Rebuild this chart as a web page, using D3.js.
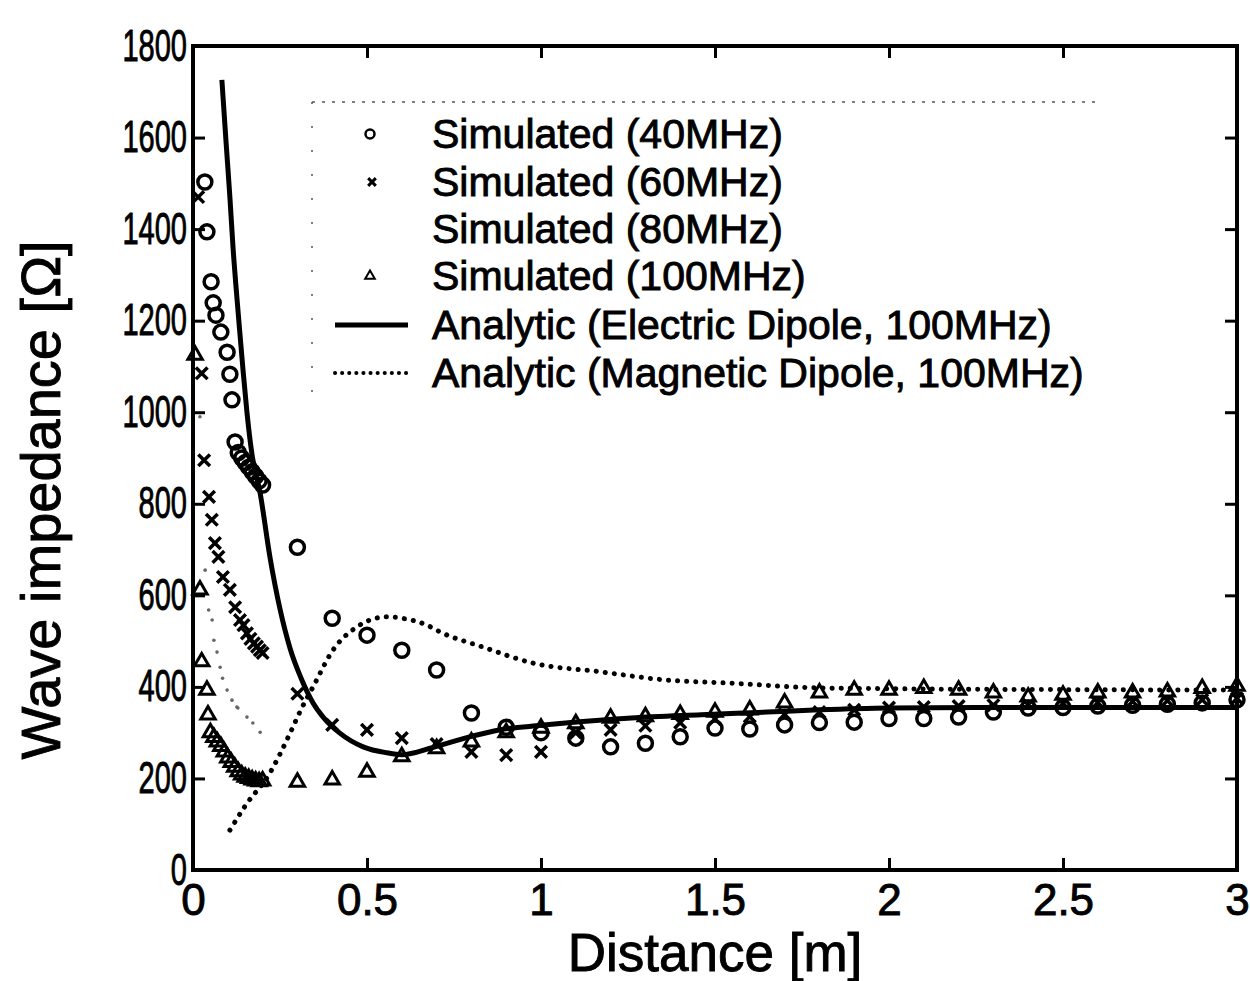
<!DOCTYPE html>
<html>
<head>
<meta charset="utf-8">
<script src="https://cdn.jsdelivr.net/npm/d3@7"></script>
<style>
  body { margin: 0; background: #fff; }
  svg { display: block; }
  text { font-family: "Liberation Sans", Arial, sans-serif; fill: #000; stroke: #000; stroke-width: 0.9px; }
</style>
</head>
<body>
<div id="chart"></div>
<script>
// ---- data ----
var xTicks = [0, 0.5, 1, 1.5, 2, 2.5, 3];
var yTicks = [0, 200, 400, 600, 800, 1000, 1200, 1400, 1600, 1800];
var legendLabels = [
  "Simulated (40MHz)",
  "Simulated (60MHz)",
  "Simulated (80MHz)",
  "Simulated (100MHz)",
  "Analytic (Electric Dipole, 100MHz)",
  "Analytic (Magnetic Dipole, 100MHz)"
];

var sim40X = [0.034, 0.040, 0.052, 0.058, 0.066, 0.080, 0.098, 0.106, 0.112, 0.121,
  0.13, 0.14, 0.15, 0.16, 0.17, 0.18, 0.19, 0.2,
  0.3, 0.4, 0.5, 0.6, 0.7, 0.8, 0.9, 1.0, 1.1, 1.2, 1.3, 1.4, 1.5, 1.6, 1.7, 1.8,
  1.9, 2.0, 2.1, 2.2, 2.3, 2.4, 2.5, 2.6, 2.7, 2.8, 2.9, 3.0];
var sim40Y = [1503, 1394, 1285, 1239, 1212, 1175, 1131, 1083, 1027, 935,
  912, 900, 890, 880, 870, 860, 850, 841,
  705, 550, 513, 480, 437, 343, 312, 300, 288, 269, 277, 291, 310, 308, 317, 322,
  323, 331, 331, 334, 345, 354, 355, 358, 360, 362, 365, 372];

var sim60X = [0.015, 0.025, 0.032, 0.046, 0.054, 0.063, 0.073, 0.086, 0.106, 0.121,
  0.135, 0.145, 0.155, 0.165, 0.175, 0.184, 0.192, 0.2,
  0.3, 0.4, 0.5, 0.6, 0.7, 0.8, 0.9, 1.0, 1.1, 1.2, 1.3, 1.4, 1.5, 1.6, 1.7, 1.8,
  1.9, 2.0, 2.1, 2.2, 2.3, 2.4, 2.5, 2.6, 2.7, 2.8, 2.9, 3.0];
var sim60Y = [1470, 1085, 895, 815, 765, 714, 684, 640, 612, 574,
  546, 535, 517, 505, 495, 488, 480, 474,
  385, 317, 306, 288, 275, 258, 251, 258, 300, 306, 315, 322, 330, 335, 340, 345,
  350, 355, 356, 358, 360, 362, 364, 366, 368, 370, 372, 375];

var sim80X = [0.02, 0.035, 0.045, 0.055, 0.06, 0.069, 0.078, 0.085, 0.098, 0.112,
  0.126, 0.129, 0.155, 0.172, 0.193];
var sim80Y = [990, 655, 568, 546, 502, 476, 443, 419, 393, 371,
  356, 354, 334, 321, 301];

var sim100X = [0.006, 0.02, 0.025, 0.04, 0.043, 0.05, 0.06, 0.07, 0.08, 0.09, 0.1,
  0.11, 0.12, 0.13, 0.14, 0.15, 0.16, 0.17, 0.18, 0.19, 0.2,
  0.3, 0.4, 0.5, 0.6, 0.7, 0.8, 0.9, 1.0, 1.1, 1.2, 1.3, 1.4, 1.5, 1.6, 1.7, 1.8,
  1.9, 2.0, 2.1, 2.2, 2.3, 2.4, 2.5, 2.6, 2.7, 2.8, 2.9, 3.0];
var sim100Y = [1125, 612, 455, 393, 339, 300, 290, 280, 270, 258, 245,
  235, 225, 215, 208, 203, 200, 197, 195, 193, 195,
  192, 197, 214, 248, 265, 280, 300, 310, 320, 332, 335, 340, 345, 350, 365, 387,
  393, 393, 397, 393, 387, 378, 382, 387, 387, 389, 397, 402];

var electricX = [0.083, 0.095, 0.106, 0.115, 0.126, 0.135, 0.144, 0.155, 0.17, 0.193,
  0.221, 0.25, 0.279, 0.31, 0.345, 0.374, 0.422, 0.489, 0.557, 0.6, 0.69, 0.8, 0.88,
  1.0, 1.07, 1.26, 1.46, 1.65, 1.8, 2.0, 2.25, 2.5, 2.75, 3.0];
var electricY = [1726, 1590, 1470, 1360, 1252, 1170, 1090, 1000, 905, 823,
  684, 570, 484, 420, 365, 334, 299, 269, 256, 252, 268, 292, 306,
  316, 321, 332, 339, 345, 350, 354, 355, 355, 355, 355];

var magneticX = [0.106, 0.15, 0.221, 0.279, 0.31, 0.345, 0.402, 0.471, 0.557, 0.6,
  0.672, 0.71, 0.833, 0.977, 1.17, 1.36, 1.55, 1.79, 2.0, 2.5, 3.0];
var magneticY = [87, 140, 212, 299, 350, 400, 480, 531, 553, 550,
  535, 520, 487, 452, 433, 415, 408, 398, 396, 394, 393];

// ---- layout ----
var width = 1250, height = 981;
var pLeft = 193, pRight = 1237, pTop = 46, pBottom = 870;

var svg = d3.select("#chart").append("svg")
  .attr("width", width)
  .attr("height", height);

svg.append("rect").attr("width", width).attr("height", height).attr("fill", "#fff");

var x = d3.scaleLinear().domain([0, 3]).range([pLeft, pRight]);
var y = d3.scaleLinear().domain([0, 1800]).range([pBottom, pTop]);

function zip(xs, ys) {
  return xs.map(function(d, i) { return [d, ys[i]]; });
}

// ---- axes (ticks pointing in, box on) ----
function styleAxis(g) {
  g.select(".domain").remove();
  g.selectAll(".tick line").attr("stroke", "#000").attr("stroke-width", 3);
  g.selectAll(".tick text").attr("fill", "#000").style("font-size", "44px")
    .style("font-family", '"Liberation Sans", Arial, sans-serif');
}

var fmtX = function(d) { return d === 0 ? "0" : String(d); };

svg.append("g")
  .attr("transform", "translate(0," + pBottom + ")")
  .call(d3.axisBottom(x).tickValues(xTicks).tickFormat(fmtX).tickSizeInner(-12).tickSizeOuter(0).tickPadding(14))
  .call(styleAxis);

svg.append("g")
  .attr("transform", "translate(0," + pTop + ")")
  .call(d3.axisTop(x).tickValues(xTicks).tickFormat("").tickSizeInner(-12).tickSizeOuter(0))
  .call(styleAxis);

var yAxisG = svg.append("g")
  .attr("transform", "translate(" + pLeft + ",0)")
  .call(d3.axisLeft(y).tickValues(yTicks).tickFormat(d3.format("d")).tickSizeInner(-12).tickSizeOuter(0).tickPadding(6))
  .call(styleAxis);

// the y tick numbers are drawn narrow in the original
yAxisG.selectAll(".tick text").each(function() {
  var w = this.getComputedTextLength();
  d3.select(this).attr("textLength", w * 0.66).attr("lengthAdjust", "spacingAndGlyphs");
});

svg.append("g")
  .attr("transform", "translate(" + pRight + ",0)")
  .call(d3.axisRight(y).tickValues(yTicks).tickFormat("").tickSizeInner(-12).tickSizeOuter(0))
  .call(styleAxis);

svg.append("rect")
  .attr("x", pLeft).attr("y", pTop)
  .attr("width", pRight - pLeft).attr("height", pBottom - pTop)
  .attr("fill", "none").attr("stroke", "#000").attr("stroke-width", 4);

// axis titles
svg.append("text")
  .attr("x", (pLeft + pRight) / 2).attr("y", 971)
  .attr("text-anchor", "middle")
  .style("font-size", "53px")
  .text("Distance [m]");

svg.append("text")
  .attr("transform", "translate(60," + 500 + ") rotate(-90)")
  .attr("text-anchor", "middle")
  .style("font-size", "56px")
  .text("Wave impedance [\u03A9]");

// ---- analytic curves ----
var line = d3.line()
  .x(function(d) { return x(d[0]); })
  .y(function(d) { return y(d[1]); })
  .curve(d3.curveMonotoneX);

svg.append("path")
  .datum(zip(electricX, electricY))
  .attr("d", line)
  .attr("fill", "none").attr("stroke", "#000").attr("stroke-width", 5);

svg.append("path")
  .datum(zip(magneticX, magneticY))
  .attr("d", line)
  .attr("fill", "none").attr("stroke", "#000").attr("stroke-width", 5)
  .attr("stroke-linecap", "round").attr("stroke-dasharray", "0.1 9");

// ---- simulated markers ----
var tri = d3.symbol().type(d3.symbolTriangle).size(90);
var cross = d3.symbol().type(d3.symbolTimes).size(90);

svg.append("g").selectAll("circle")
  .data(zip(sim40X, sim40Y)).enter().append("circle")
  .attr("cx", function(d) { return x(d[0]); })
  .attr("cy", function(d) { return y(d[1]); })
  .attr("r", 7)
  .attr("fill", "none").attr("stroke", "#000").attr("stroke-width", 3.5);

svg.append("g").selectAll("path")
  .data(zip(sim60X, sim60Y)).enter().append("path")
  .attr("d", cross)
  .attr("transform", function(d) { return "translate(" + x(d[0]) + "," + y(d[1]) + ")"; })
  .attr("fill", "none").attr("stroke", "#000").attr("stroke-width", 3.5);

svg.append("g").selectAll("circle")
  .data(zip(sim80X, sim80Y)).enter().append("circle")
  .attr("cx", function(d) { return x(d[0]); })
  .attr("cy", function(d) { return y(d[1]); })
  .attr("r", 1.8)
  .attr("fill", "#666");

svg.append("g").selectAll("path")
  .data(zip(sim100X, sim100Y)).enter().append("path")
  .attr("d", tri)
  .attr("transform", function(d) { return "translate(" + x(d[0]) + "," + y(d[1]) + ")"; })
  .attr("fill", "none").attr("stroke", "#000").attr("stroke-width", 3);

// ---- legend ----
var lg = svg.append("g");
lg.append("line").attr("x1", 312).attr("x2", 1100).attr("y1", 102).attr("y2", 102)
  .attr("stroke", "#555").attr("stroke-width", 1.5).attr("stroke-dasharray", "3 7");
lg.append("line").attr("x1", 312).attr("x2", 312).attr("y1", 102).attr("y2", 395)
  .attr("stroke", "#555").attr("stroke-width", 1.5).attr("stroke-dasharray", "2 22");

var rowY = [134, 182, 229, 276, 325, 373];
lg.selectAll("text.lab")
  .data(legendLabels).enter().append("text")
  .attr("class", "lab")
  .attr("x", 432)
  .attr("y", function(d, i) { return rowY[i] + 14; })
  .style("font-size", "41px")
  .text(function(d) { return d; });

lg.append("circle").attr("cx", 370).attr("cy", rowY[0]).attr("r", 4.5)
  .attr("fill", "none").attr("stroke", "#000").attr("stroke-width", 2.5);
lg.append("path").attr("d", d3.symbol().type(d3.symbolTimes).size(40))
  .attr("transform", "translate(372," + rowY[1] + ")")
  .attr("fill", "none").attr("stroke", "#000").attr("stroke-width", 3);
lg.append("path").attr("d", d3.symbol().type(d3.symbolTriangle).size(40))
  .attr("transform", "translate(370," + rowY[3] + ")")
  .attr("fill", "none").attr("stroke", "#000").attr("stroke-width", 2);
lg.append("line").attr("x1", 335).attr("x2", 408).attr("y1", rowY[4]).attr("y2", rowY[4])
  .attr("stroke", "#000").attr("stroke-width", 5);
lg.append("line").attr("x1", 335).attr("x2", 408).attr("y1", rowY[5]).attr("y2", rowY[5])
  .attr("stroke", "#000").attr("stroke-width", 4)
  .attr("stroke-linecap", "round").attr("stroke-dasharray", "0.1 7");
</script>
</body>
</html>
